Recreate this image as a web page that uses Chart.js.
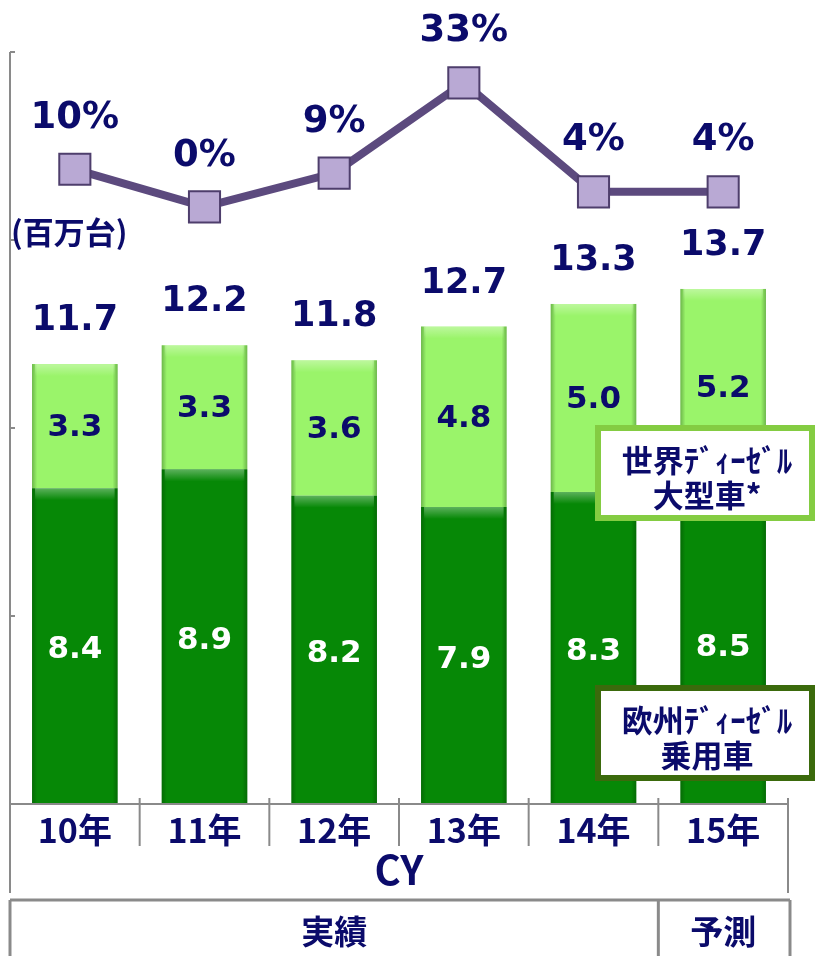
<!DOCTYPE html>
<html><head><meta charset="utf-8">
<script src="https://cdn.jsdelivr.net/npm/chart.js@4"></script>
<style>html,body{margin:0;padding:0;background:#fff}#wrap{width:816px;height:956px;position:relative}</style>
</head><body><div id="wrap"><canvas id="c" width="816" height="956"></canvas></div>
<script>
const categories = ['10年','11年','12年','13年','14年','15年'];
const passengerEU = [8.4, 8.9, 8.2, 7.9, 8.3, 8.5];
const heavyWorld = [3.3, 3.3, 3.6, 4.8, 5.0, 5.2];
const totals = [11.7, 12.2, 11.8, 12.7, 13.3, 13.7];
const growthPct = [10, 0, 9, 33, 4, 4];
const yTicks = [0, 5, 10, 15, 20];

const NAVY = '#0b0b6b';
const FONT = '"DejaVu Sans", "Noto Sans CJK JP", sans-serif';
const JFONT = '"Noto Sans CJK JP", "DejaVu Sans", sans-serif';

const decor = {
  id: 'decor',
  afterDatasetsDraw(chart) {
    const ctx = chart.ctx;
    ctx.save();
    [0,1].forEach(di => {
      chart.getDatasetMeta(di).data.forEach(b => {
        const w = b.width, l = b.x - w/2, top = Math.min(b.y, b.base), h = Math.abs(b.base - b.y);
        let g = ctx.createLinearGradient(l, 0, l + w, 0);
        g.addColorStop(0, 'rgba(0,40,0,0.30)');
        g.addColorStop(0.06, 'rgba(0,40,0,0)');
        g.addColorStop(0.94, 'rgba(0,40,0,0)');
        g.addColorStop(1, 'rgba(0,40,0,0.30)');
        ctx.fillStyle = g; ctx.fillRect(l, top, w, h);
        let g2 = ctx.createLinearGradient(0, top, 0, top + 12);
        g2.addColorStop(0, 'rgba(255,255,255,0.35)');
        g2.addColorStop(1, 'rgba(255,255,255,0)');
        ctx.fillStyle = g2; ctx.fillRect(l + 3, top, w - 6, 12);
      });
    });
    ctx.restore();
  },
  afterDraw(chart) {
    const ctx = chart.ctx;
    const ca = chart.chartArea;
    const ys = chart.scales.y;
    const xs = chart.scales.x;
    ctx.save();
    ctx.strokeStyle = '#8a8a8a'; ctx.lineWidth = 2;
    ctx.beginPath(); ctx.moveTo(ca.left, ys.getPixelForValue(20)); ctx.lineTo(ca.left, ys.getPixelForValue(0)); ctx.stroke();
    yTicks.forEach(v => { const y = ys.getPixelForValue(v); ctx.beginPath(); ctx.moveTo(ca.left, y); ctx.lineTo(ca.left + 5, y); ctx.stroke(); });
    const by = ys.getPixelForValue(0);
    ctx.beginPath(); ctx.moveTo(ca.left, by); ctx.lineTo(ca.right, by); ctx.stroke();
    const cw = (ca.right - ca.left) / categories.length;
    for (let i = 0; i <= categories.length; i++) {
      const x = ca.left + i * cw;
      const bottom = (i === 0 || i === categories.length) ? by + 89 : by + 42;
      ctx.beginPath(); ctx.moveTo(x, by - 6); ctx.lineTo(x, bottom); ctx.stroke();
    }
    ctx.lineWidth = 3;
    ctx.beginPath(); ctx.moveTo(ca.left, by + 96); ctx.lineTo(ca.right + 2, by + 96); ctx.stroke();
    ctx.beginPath(); ctx.moveTo(ca.left, by + 96); ctx.lineTo(ca.left, 960); ctx.stroke();
    ctx.beginPath(); ctx.moveTo(ca.right + 2, by + 96); ctx.lineTo(ca.right + 2, 960); ctx.stroke();
    const divX = ca.left + 5 * cw;
    ctx.beginPath(); ctx.moveTo(divX, by + 96); ctx.lineTo(divX, 960); ctx.stroke();
    ctx.fillStyle = NAVY; ctx.textAlign = 'center'; ctx.textBaseline = 'middle';
    ctx.font = 'bold 34px ' + JFONT;
    categories.forEach((c, i) => ctx.fillText(c, xs.getPixelForValue(i), by + 26));
    ctx.font = 'bold 40px ' + JFONT;
    ctx.fillText('CY', (ca.left + ca.right) / 2, by + 66);
    ctx.font = 'bold 33px ' + JFONT;
    ctx.fillText('実績', (ca.left + divX) / 2, by + 127);
    ctx.fillText('予測', (divX + ca.right) / 2, by + 127);
    ctx.font = 'bold 31px ' + JFONT; ctx.textAlign = 'left';
    ctx.fillText('(百万台)', 11, 232);
    ctx.textAlign = 'center';
    const meta1 = chart.getDatasetMeta(1), meta0 = chart.getDatasetMeta(0), meta2 = chart.getDatasetMeta(2);
    ctx.font = 'bold 35px ' + FONT;
    meta1.data.forEach((b, i) => ctx.fillText(totals[i].toFixed(1), b.x, b.y - 43));
    ctx.font = 'bold 31px ' + FONT;
    meta1.data.forEach((b, i) => ctx.fillText(heavyWorld[i].toFixed(1), b.x, (b.y + b.base) / 2 + 2));
    ctx.fillStyle = '#ffffff';
    meta0.data.forEach((b, i) => ctx.fillText(passengerEU[i].toFixed(1), b.x, (b.y + b.base) / 2 + 4));
    ctx.fillStyle = NAVY; ctx.font = 'bold 37px ' + FONT;
    meta2.data.forEach((p, i) => ctx.fillText(growthPct[i] + '%', p.x, p.y - 51));
    function box(x, y, w, h, col, l1, l2) {
      ctx.fillStyle = '#ffffff'; ctx.fillRect(x, y, w, h);
      ctx.strokeStyle = col; ctx.lineWidth = 6; ctx.strokeRect(x, y, w, h);
      ctx.fillStyle = NAVY; ctx.font = 'bold 31px ' + JFONT;
      ctx.fillText(l1, x + w / 2 + 2, y + 32);
      ctx.fillText(l2, x + w / 2 + 2, y + 67);
    }
    box(598, 428, 214, 90, '#84cc42', '世界ﾃﾞｨｰｾﾞﾙ', '大型車*');
    box(598, 688, 214, 90, '#3b6a0c', '欧州ﾃﾞｨｰｾﾞﾙ', '乗用車');
    ctx.restore();
  }
};

new Chart(document.getElementById('c'), {
  data: {
    labels: categories,
    datasets: [
      { type: 'bar', label: '欧州ディーゼル乗用車', data: passengerEU, backgroundColor: '#068806', stack: 's', yAxisID: 'y', order: 2, borderWidth: 0 },
      { type: 'bar', label: '世界ディーゼル大型車', data: heavyWorld, backgroundColor: '#9af46a', stack: 's', yAxisID: 'y', order: 2, borderWidth: 0 },
      { type: 'line', label: '伸び率', data: growthPct, yAxisID: 'y2', order: 1, borderColor: '#5c4a7e', borderWidth: 8,
        pointStyle: 'rect', pointRadius: 22, pointBackgroundColor: '#b9a9d4', pointBorderColor: '#4e3e6c', pointBorderWidth: 2,
        tension: 0, fill: false, clip: false }
    ]
  },
  options: {
    responsive: false, animation: false, devicePixelRatio: 1,
    layout: { autoPadding: false, padding: { left: 10, right: 28, top: 52, bottom: 152 } },
    datasets: { bar: { categoryPercentage: 1, barPercentage: 0.66 } },
    plugins: { legend: { display: false }, tooltip: { enabled: false } },
    scales: {
      x: { display: false, offset: true, stacked: true },
      y: { display: false, stacked: true, min: 0, max: 20 },
      y2: { display: false, min: -158.8, max: 41.2 }
    }
  },
  plugins: [decor]
});
</script></body></html>
